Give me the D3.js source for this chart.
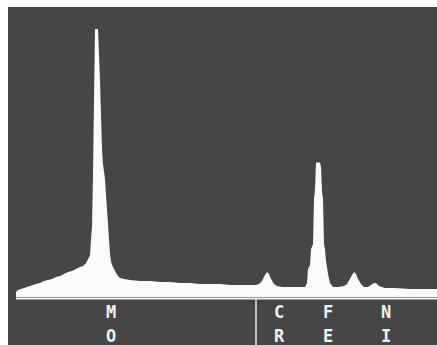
<!DOCTYPE html>
<html>
<head>
<meta charset="utf-8">
<script src="https://cdn.jsdelivr.net/npm/d3@7"></script>
<style>
  html, body { margin: 0; padding: 0; background: #ffffff; }
  svg { display: block; }
</style>
</head>
<body>
<svg id="chart" width="437" height="345"></svg>
<script>
// EDS spectrum: channel numbers and counts along the trace
const channels = [0, 2, 5, 8, 11, 14, 17, 20, 24, 28, 32, 36, 40, 44, 48, 52, 56, 60, 64, 67,
  70, 72, 74, 75, 76, 77, 78, 79, 82, 83, 84, 85, 86, 87, 88, 89, 90, 91, 92, 93,
  94, 95, 96, 98, 100, 102, 104, 108, 114, 124, 134, 144, 154, 164, 174, 184, 194, 204, 214, 224,
  234, 240, 243, 246, 249, 251, 253, 255, 258, 261, 266, 274, 284, 289, 291, 292, 294, 295, 297, 298,
  299, 300, 304, 305, 306, 307, 308, 309, 310, 311, 312, 314, 317, 322, 328, 331, 334, 336, 338, 340,
  342, 345, 348, 352, 355, 358, 360, 363, 369, 379, 394, 409, 421];
const counts = [50, 70, 80, 90, 100, 110, 120, 130, 140, 160, 170, 180, 200, 210, 230, 250, 260, 280, 300, 310,
  340, 380, 420, 580, 700, 1230, 1980, 2690, 2690, 2430, 2180, 1830, 1480, 1330, 1260, 1180, 1030, 880, 730, 580,
  430, 360, 320, 280, 240, 210, 190, 180, 170, 160, 160, 150, 150, 140, 140, 130, 130, 130, 120, 120,
  120, 120, 130, 160, 220, 250, 230, 180, 130, 110, 100, 100, 100, 100, 140, 280, 320, 480, 530, 980,
  1080, 1350, 1350, 1300, 1060, 980, 530, 480, 360, 300, 230, 140, 100, 100, 110, 130, 180, 220, 250, 230,
  180, 130, 100, 100, 120, 140, 140, 110, 90, 90, 80, 80, 80];

// Element markers under the spectrum, two letters stacked per element
const labelTop = ["M", "C", "F", "N"];
const labelBottom = ["O", "R", "E", "I"];
const labelChannels = [95, 263, 312, 370];
const dividerChannel = 240;

const svg = d3.select("#chart");
const W = 437, H = 345;

// screen panel
svg.append("rect")
  .attr("x", 8).attr("y", 7)
  .attr("width", W - 8).attr("height", H - 7)
  .attr("fill", "#464646");

const x = d3.scaleLinear().domain([0, 421]).range([16, 437]);
const y = d3.scaleLinear().domain([0, 2690]).range([297, 29]);

const pts = channels.map((c, i) => ({ c, n: counts[i] }));

const area = d3.area()
  .x(d => x(d.c))
  .y0(y(0))
  .y1(d => y(d.n))
  .curve(d3.curveLinear);

svg.append("path")
  .datum(pts)
  .attr("d", area)
  .attr("fill", "#fbfbfb");

// baseline
svg.append("line")
  .attr("x1", x(0)).attr("x2", W)
  .attr("y1", 298.5).attr("y2", 298.5)
  .attr("stroke", "#f4f4f4").attr("stroke-width", 2);

// divider between marker groups
svg.append("line")
  .attr("x1", x(dividerChannel)).attr("x2", x(dividerChannel))
  .attr("y1", 298).attr("y2", H)
  .attr("stroke", "#e6e6e6").attr("stroke-width", 1.5);

const lab = svg.append("g")
  .attr("font-family", "'DejaVu Sans Mono', monospace")
  .attr("font-weight", "bold")
  .attr("font-size", 17)
  .attr("fill", "#f2f2f2")
  .attr("text-anchor", "middle");

lab.selectAll("text.top")
  .data(labelTop)
  .join("text")
  .attr("class", "top")
  .attr("x", (d, i) => x(labelChannels[i]))
  .attr("y", 318)
  .text(d => d);

lab.selectAll("text.bottom")
  .data(labelBottom)
  .join("text")
  .attr("class", "bottom")
  .attr("x", (d, i) => x(labelChannels[i]))
  .attr("y", 342)
  .text(d => d);
</script>
</body>
</html>
